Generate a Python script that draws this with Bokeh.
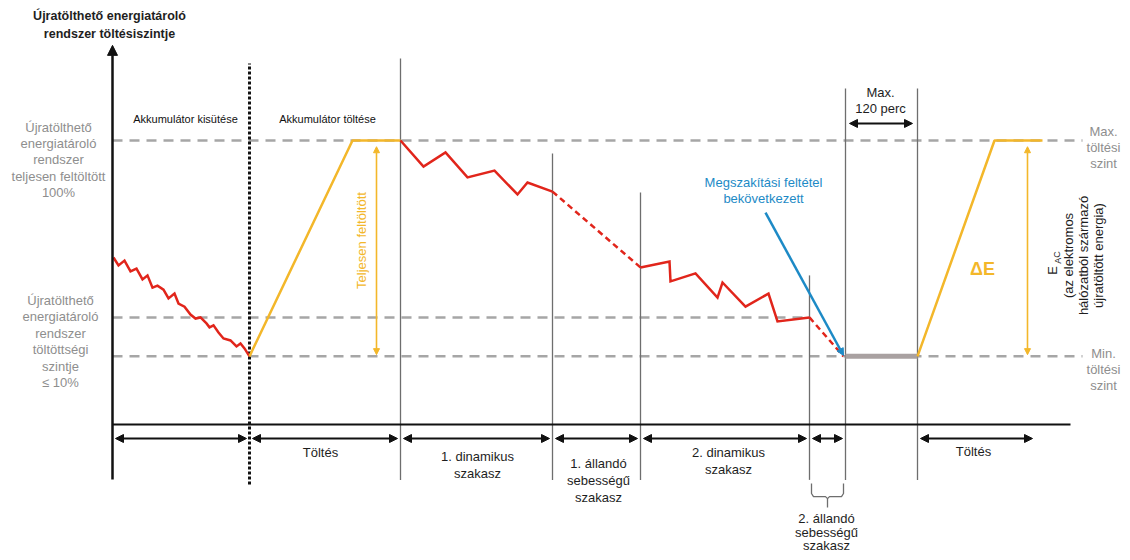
from bokeh.plotting import figure
from bokeh.models import Range1d, Label, Arrow, NormalHead
from bokeh.embed import file_html
from bokeh.resources import INLINE

FONT = "Liberation Sans"

# ---------------- data ----------------
# time units along the horizontal axis (0 = vertical axis),
# charge-level units (0 = time axis, 100 = fully charged level)
level_full = 100.0
level_mid = 37.7
level_min = 24.0

phase_bounds = [0, 137, 288, 440, 528, 697, 733, 805]
axis_end = 958
level_line_end = 970

# discharging the battery before the test (red zigzag)
dis_t = [1, 6, 12, 18, 24, 30, 35, 40, 45, 51, 56, 62, 66, 72, 78, 83, 88,
         94, 97, 101, 106, 111, 118, 124, 128, 132, 137]
dis_l = [58.8, 56.0, 57.7, 53.9, 54.9, 51.1, 52.5, 48.2, 48.9, 47.5, 44.4,
         46.1, 42.6, 41.5, 38.7, 37.3, 37.7, 35.6, 34.2, 34.9, 32.4, 30.3,
         29.6, 27.5, 28.5, 26.8, 24.0]

# charging (yellow)
chg1_t = [137, 240, 288]
chg1_l = [24.0, 100.0, 100.0]
chg2_t = [805, 882, 930]
chg2_l = [24.0, 100.0, 100.0]

# 1st dynamic segment
dyn1_t = [288, 311, 333, 355, 382, 405, 415, 440]
dyn1_l = [100.0, 90.8, 95.8, 87.0, 89.4, 81.0, 85.2, 82.0]
# 1st constant speed segment (dashed)
cst1_t = [440, 528]
cst1_l = [82.0, 55.3]
# 2nd dynamic segment
dyn2_t = [528, 557, 558, 583, 605, 610, 633, 656, 665, 697]
dyn2_l = [55.3, 57.4, 50.4, 53.2, 44.7, 50.0, 41.5, 46.1, 36.3, 37.7]
# 2nd constant speed segment (dashed)
cst2_t = [697, 731]
cst2_l = [37.7, 24.0]
# soak / max 120 min hold
hold_t = [733, 805]
hold_l = [24.0, 24.0]

# break-off criterion pointer
break_t = [653, 731]
break_l = [74.6, 24.3]

# texts
y_title = ["Újratölthető energiatároló", "rendszer töltésiszintje"]
full_label = ["Újratölthető", "energiatároló", "rendszer", "teljesen feltöltött", "100%"]
low_label = ["Újratölthető", "energiatároló", "rendszer", "töltöttségi", "szintje", "≤ 10%"]
max_label = ["Max.", "töltési", "szint"]
min_label = ["Min.", "töltési", "szint"]
eac_label = ["(az elektromos", "hálózatból származó", "újratöltött energia)"]
break_label = ["Megszakítási feltétel", "bekövetkezett"]

# ---------------- styles ----------------
RED = "#e1251b"
YELLOW = "#f3b72a"
BLUE = "#1d8ac6"
GRAY_DASH = "#a6a6a6"
GRAY_TEXT = "#8e8e8e"
DIV = "#6e6e6e"
HOLD = "#a9a1a1"
DARK = "#1e1e1e"
BLACK = "#111111"

K = 2.84  # px per level unit
W, H = 1122, 552

p = figure(width=W, height=H,
           x_range=Range1d(-112, W - 112), y_range=Range1d(-(H - 424) / K, 424 / K),
           output_backend="svg", toolbar_location=None,
           x_axis_location=None, y_axis_location=None,
           min_border=0, outline_line_color=None, background_fill_color="white")
p.xgrid.grid_line_color = None
p.ygrid.grid_line_color = None


def head(color, size):
    return NormalHead(size=size, fill_color=color, line_color=color, line_width=1)


def label(text, px, py, size="13px", color=DARK, angle=0.0, style="normal"):
    p.add_layout(Label(x=px, y=H - py, x_units="screen", y_units="screen", text=text,
                       text_font=FONT, text_font_size=size, text_color=color,
                       text_align="center", text_baseline="middle", angle=angle,
                       text_font_style=style))


# reference levels (dashed)
p.line([0, level_line_end], [level_full] * 2, line_color=GRAY_DASH, line_width=2.5, line_dash="10 7")
p.line([0, phase_bounds[5]], [level_mid] * 2, line_color=GRAY_DASH, line_width=2.5, line_dash="10 7")
p.line([0, level_line_end], [level_min] * 2, line_color=GRAY_DASH, line_width=2.5, line_dash="10 7")

# phase dividers
div_x = [phase_bounds[2], phase_bounds[3], phase_bounds[4], phase_bounds[5], phase_bounds[6], phase_bounds[7]]
div_top = [128.9, 95.4, 81.7, 52.5, 118.3, 118.3]
p.segment(x0=div_x, y0=[-19.5] * 6, x1=div_x, y1=div_top, line_color=DIV, line_width=1.3)
# dotted divider
p.line([phase_bounds[1]] * 2, [-21.1, 127.1], line_color=BLACK, line_width=3, line_dash="3 2")

# axes
p.line([0, axis_end], [0, 0], line_color=BLACK, line_width=2)
p.add_layout(Arrow(x_start=0, y_start=-19.4, x_end=0, y_end=133.5, line_color=BLACK, line_width=2.5,
                   start=None, end=head(BLACK, 10)))

# curves
p.line(dis_t, dis_l, line_color=RED, line_width=2.5, line_join="miter")
p.line(chg1_t, chg1_l, line_color=YELLOW, line_width=2.5)
p.line(dyn1_t, dyn1_l, line_color=RED, line_width=2.5, line_join="miter")
p.line(cst1_t, cst1_l, line_color=RED, line_width=2.5, line_dash="6 4")
p.line(dyn2_t, dyn2_l, line_color=RED, line_width=2.5, line_join="miter")
p.line(cst2_t, cst2_l, line_color=RED, line_width=2.5, line_dash="6 4")
p.line(hold_t, hold_l, line_color=HOLD, line_width=5)
p.line(chg2_t, chg2_l, line_color=YELLOW, line_width=2.5)

# break-off pointer
p.add_layout(Arrow(x_start=break_t[0], y_start=break_l[0], x_end=break_t[1], y_end=break_l[1],
                   line_color=BLUE, line_width=2.5, start=None, end=head(BLUE, 7)))

# yellow energy arrows
for tx in (264, 915):
    p.add_layout(Arrow(x_start=tx, y_start=level_min + 0.6, x_end=tx, y_end=level_full - 2.2,
                       line_color=YELLOW, line_width=1.6,
                       start=head(YELLOW, 6), end=head(YELLOW, 6)))

# phase arrows under the axis
ARROW_L = -14 / K
phase_arrows = [(phase_bounds[0], phase_bounds[1]), (phase_bounds[1], phase_bounds[2]),
                (phase_bounds[2], phase_bounds[3]), (phase_bounds[3], phase_bounds[4]),
                (phase_bounds[4], phase_bounds[5]), (phase_bounds[5], phase_bounds[6]),
                (phase_bounds[7], 923)]
for a, b in phase_arrows:
    p.add_layout(Arrow(x_start=a + 3, y_start=ARROW_L, x_end=b - 3, y_end=ARROW_L,
                       line_color=BLACK, line_width=2, start=head(BLACK, 8), end=head(BLACK, 8)))

# max 120 min arrow
p.add_layout(Arrow(x_start=phase_bounds[6] + 4, y_start=106.0, x_end=phase_bounds[7] - 5, y_end=106.0,
                   line_color=BLACK, line_width=2, start=head(BLACK, 8), end=head(BLACK, 8)))

# brace under 2nd constant speed segment
b0, b1 = phase_bounds[5] + 2, phase_bounds[6] - 2
bm = (b0 + b1) / 2
p.line([b0, b0, b0 + 2, bm - 2, bm, bm], [-20.8, -24.3, -25.4, -25.4, -26.1, -29.2], line_color=DIV, line_width=1.3)
p.line([bm, bm + 2, b1 - 2, b1, b1], [-26.1, -25.4, -25.4, -24.3, -20.8], line_color=DIV, line_width=1.3)

# ---------------- texts ----------------
for i, s in enumerate(y_title):
    label(s, 109, 15 + 18 * i, size="12.5px", color=DARK, style="bold")
for i, s in enumerate(full_label):
    label(s, 58, 127 + 16.2 * i, color=GRAY_TEXT)
for i, s in enumerate(low_label):
    label(s, 60, 300 + 16.4 * i, color=GRAY_TEXT)
for i, s in enumerate(max_label):
    label(s, 1103, 131 + 16 * i, color=GRAY_TEXT)
for i, s in enumerate(min_label):
    label(s, 1103, 353 + 16 * i, color=GRAY_TEXT)

label("Akkumulátor kisütése", 185, 118, size="11px", color=BLACK)
label("Akkumulátor töltése", 327, 118, size="11px", color=BLACK)
label("Teljesen feltöltött", 361, 240, color=YELLOW, angle=1.5708)

label("Max.", 880, 92)
label("120 perc", 880, 108)

for i, s in enumerate(break_label):
    label(s, 763, 182 + 16 * i, color=BLUE)

label("ΔE", 982, 268, size="18px", color=YELLOW, style="bold")
label("E", 1052, 270, angle=1.5708)
label("AC", 1057, 257, size="9px", angle=1.5708)
for i, s in enumerate(eac_label):
    label(s, 1068 + 15 * i, 255, angle=1.5708)

label("Töltés", 320, 452)
label("1. dinamikus", 477, 456)
label("szakasz", 477, 473)
label("1. állandó", 598, 463)
label("sebességű", 598, 480)
label("szakasz", 598, 497)
label("2. dinamikus", 728, 452)
label("szakasz", 728, 469)
label("2. állandó", 826, 518)
label("sebességű", 826, 532)
label("szakasz", 826, 545)
label("Töltés", 973, 451)

open("out.html", "w").write(file_html(p, INLINE))
